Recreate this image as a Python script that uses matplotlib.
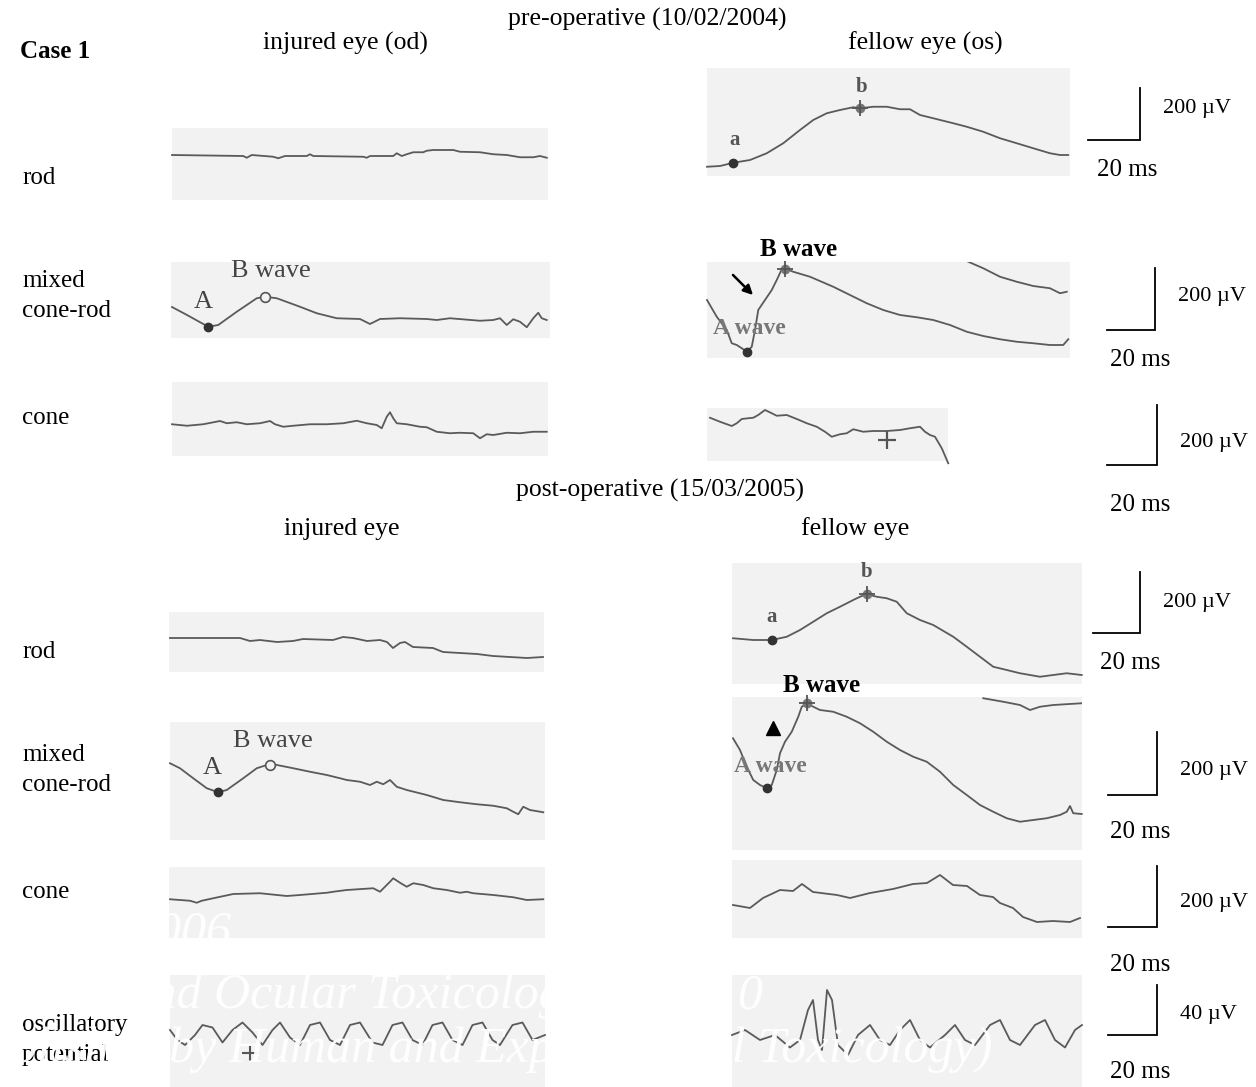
import matplotlib

matplotlib.use("Agg")

import matplotlib.pyplot as plt

W, H = 1256, 1087
BG = "#f2f2f2"
TRACE = "#5a5a5a"
SERIF = ["Liberation Serif", "DejaVu Serif"]

plt.rcParams.update({"font.family": SERIF, "font.size": 18})

# ---- traces: time (ms) and amplitude (uV) ----
# pre-operative, injured eye
pre_inj_rod_t = [0, 28.5, 29.9, 31.9, 40.5, 42.5, 45.2, 53.9, 55.2, 56.5, 76.5, 77.9, 79.2, 88.5, 89.9,
                 91.9, 93.9, 96.5, 100.5, 101.9, 104.5, 112.5, 115.2, 123.2, 128.5, 133.9, 139.2, 144.5, 147.2, 149.9]
pre_inj_rod_v = [0, -4, -11, 0, -7, -13, -4, -4, 3, -4, -7, -11, -4, -4, 7,
                 -4, 3, 11, 11, 17, 20, 20, 13, 11, 3, 0, -9, -9, -4, -11]

pre_inj_mix_t = [0, 6, 14.5, 18.5, 25.9, 33.9, 37.2, 41.9, 51.2, 57.9, 65.9, 75.2, 79.2, 83.2, 91.2, 101.9,
                 105.9, 111.2, 123.2, 128.5, 131.2, 133.9, 136.5, 139.2, 141.9, 144.5, 146.5, 147.9, 149.9]
pre_inj_mix_v = [0, -32, -79, -72, -19, 35, 41, 35, 1, -25, -45, -48, -68, -48, -45, -48,
                 -52, -45, -55, -52, -45, -72, -49, -59, -81, -45, -23, -45, -52]

pre_inj_cone_t = [0, 6, 12.5, 19.2, 21.9, 25.9, 29.9, 35.2, 39.2, 41.2, 44.5, 48.5, 55.2, 61.9, 68.5, 73.9,
                  77.9, 81.9, 83.9, 85.9, 87.2, 88.5, 89.9, 93.9, 99.2, 101.9, 105.9, 111.2, 115.2, 120.5,
                  123.2, 125.9, 128.5, 133.9, 139.2, 144.5, 149.9]
pre_inj_cone_v = [-1, -7, -1, 12, 3, 7, -1, 3, 12, -1, -11, -7, -1, -1, 3, 13,
                  3, -4, -17, 29, 47, 23, 3, -1, -11, -13, -31, -37, -35, -37,
                  -57, -41, -44, -35, -37, -31, -31]

# pre-operative, fellow eye
pre_fel_rod_t = [0, 5.2, 10.5, 17.2, 23.9, 30.5, 37.2, 42.5, 47.9, 53.2, 58.5, 61.2, 66.5, 71.9, 77.2,
                 81.2, 85.2, 90.5, 98.5, 103.9, 110.5, 117.2, 123.9, 130.5, 137.2, 141.2, 144.5]
pre_fel_rod_v = [1, 4, 17, 28, 55, 95, 148, 188, 215, 228, 239, 235, 241, 241, 231,
                 231, 208, 195, 175, 161, 141, 115, 95, 75, 55, 48, 48]

pre_fel_mix_t = [0, 3.9, 7.9, 9.9, 11.9, 13.9, 15.9, 17.9, 19.2, 20.5, 23.2, 25.9, 27.9, 29.9, 31.9, 34.5,
                 41.2, 50.5, 57.2, 63.9, 70.5, 77.2, 83.9, 90.5, 97.2, 103.9, 110.5, 117.2, 123.9, 130.5,
                 137.2, 142.5, 144.5]
pre_fel_mix_v = [0, -67, -120, -173, -180, -193, -207, -187, -120, -40, 0, 40, 80, 123, 123, 113,
                 93, 53, 20, -13, -40, -60, -69, -80, -100, -127, -144, -157, -167, -173,
                 -180, -180, -157]
pre_fel_mix2_t = [104.5, 110.5, 117.2, 123.9, 130.5, 137.2, 141.2, 143.9]
pre_fel_mix2_v = [153, 127, 93, 73, 56, 47, 27, 33]

pre_fel_cone_t = [0, 4, 8.7, 10.7, 12.7, 15.3, 17.3, 19.3, 22, 24.7, 26.7, 30.7, 34.7, 38.7, 42.7, 46,
                  48.7, 52, 54.7, 57.3, 61.3, 65.3, 70.7, 76, 80, 84, 86, 88, 90, 92.7, 95.3]
pre_fel_cone_v = [1, -15, -32, -21, -4, -1, 1, 12, 32, 19, 9, 12, -4, -21, -35, -55,
                  -75, -65, -61, -45, -55, -52, -52, -48, -41, -35, -55, -68, -75, -121, -181]

# post-operative, injured eye
post_inj_rod_t = [0, 28, 32, 36, 42.8, 49.2, 53.2, 65.2, 69.2, 73.2, 78.8, 84, 86.8, 89.2, 92, 94, 97.2,
                  105.2, 109.2, 116, 122.8, 129.2, 136, 142.8, 149.2]
post_inj_rod_v = [0, 0, -12, -8, -16, -12, -4, -8, 4, 0, -12, -8, -16, -40, -20, -16, -36,
                  -40, -56, -60, -64, -72, -76, -80, -76]

post_inj_mix_t = [0, 4, 9.3, 14.7, 19.3, 22.7, 29.3, 34.7, 38.7, 41.3, 49.3, 56, 62.7, 68, 70.7, 76, 80,
                  82.7, 85.3, 88, 90.7, 94.7, 102.7, 109.3, 116, 122.7, 129.3, 134.7, 137.3, 139.3,
                  141.3, 144, 149.3]
post_inj_mix_v = [-1, -21, -61, -101, -117, -108, -61, -21, -8, -5, -21, -35, -48, -61, -68, -75, -88,
                  -75, -85, -68, -95, -108, -128, -148, -157, -165, -171, -181, -195, -205,
                  -175, -188, -197]

post_inj_cone_t = [0, 8, 10.7, 12.7, 17.3, 25.3, 36, 46.7, 52, 62.7, 65.3, 70.7, 81.3, 84, 88, 89.3, 92,
                   94.7, 97.3, 101.3, 105.3, 110.7, 116, 118.7, 121.3, 129.3, 137.3, 142.7, 149.3]
post_inj_cone_v = [-1, -7, -15, -7, 3, 20, 23, 12, 16, 25, 29, 36, 43, 29, 69, 83, 65,
                   49, 63, 56, 43, 36, 25, 29, 23, 16, 7, -4, -1]

post_inj_op_t = [0, 3, 6, 10, 13, 17, 21, 25, 29, 33, 37, 41, 44, 48, 52, 56, 60, 64, 68, 72, 76, 81,
                 85, 89, 93, 97, 101, 105, 109, 113, 117, 121, 125, 129, 132, 137, 141, 145, 150]
post_inj_op_v = [0, -8, -12, -4, 4, 2, -10, 0, 6, -2, -12, 0, 6, -6, -12, 4, 6, -8, -12, 4, 6, -10,
                 -12, 4, 6, -8, -12, 4, 6, -8, -12, 4, 6, -8, -12, 4, 6, -8, -4]

# post-operative, fellow eye
post_fel_rod_t = [0, 8.1, 15.5, 21.5, 26.8, 32.1, 37.5, 42.8, 48.1, 50.8, 53.5, 57.5, 61.5, 65.5, 69.5,
                  74.8, 80.1, 88.1, 93.5, 98.8, 104.1, 109.5, 114.8, 122.8, 128.1, 133.5, 139.5]
post_fel_rod_v = [-1, -8, -8, 5, 32, 65, 99, 125, 152, 165, 175, 165, 159, 145, 99,
                  72, 52, 5, -35, -75, -115, -128, -141, -155, -148, -141, -148]

post_fel_mix_t = [0, 2.8, 5.5, 8.1, 10.8, 13.5, 15.5, 17.5, 18.8, 20.8, 23.5, 26.1, 27.5, 29.5, 32.1,
                  34.8, 40.1, 45.5, 50.8, 56.1, 61.5, 66.8, 72.1, 77.5, 82.8, 88.1, 93.5, 98.8, 104.1,
                  109.5, 114.8, 120.1, 125.5, 130.8, 133.5, 134.8, 136.1, 139.5]
post_fel_mix_v = [-1, -48, -115, -168, -188, -201, -188, -128, -61, -15, 25, 85, 125, 139, 125,
                  112, 105, 85, 59, 25, -15, -48, -75, -95, -135, -188, -228, -268, -295,
                  -321, -335, -328, -321, -308, -295, -272, -301, -304]
post_fel_mix2_t = [100.1, 108.1, 114.8, 118.8, 122.8, 128.1, 139.5]
post_fel_mix2_v = [159, 145, 132, 112, 125, 132, 139]

post_fel_cone_t = [0, 6.8, 12, 18.8, 24, 27.6, 32, 41.6, 46.8, 54.8, 64, 72, 77.6, 82.8, 88, 93.6, 98.8,
                   104, 106.8, 112, 116, 121.6, 128, 134.8, 138.8]
post_fel_cone_v = [0, -12, 28, 60, 56, 84, 52, 40, 28, 48, 64, 84, 88, 120, 80, 76, 40,
                   32, 8, -12, -48, -68, -64, -68, -52]

post_fel_op_t = [0, 5.2, 11.2, 17.2, 23.2, 27.2, 30.4, 32.4, 34.4, 36, 38, 40, 42.4, 46.4, 50.4, 55.2,
                 59.2, 63.2, 67.2, 71.2, 75.2, 79.2, 85.2, 89.2, 93.2, 97.2, 103.2, 107.2, 111.2, 115.2,
                 121.2, 125.2, 129.2, 133.2, 137.2, 140]
post_fel_op_v = [0, 4, -4, 0, -10, -4, 20, 28, -4, -12, 36, 28, -8, -16, 0, 8,
                 -4, -8, 4, 12, -4, -10, 0, 8, -4, -8, 8, 12, -4, -8, 8, 12, -4, -10, 4, 8]

fig = plt.figure(figsize=(W / 100, H / 100), dpi=100)
base = fig.add_axes([0, 0, 1, 1])
base.set_xlim(0, W)
base.set_ylim(H, 0)
base.axis("off")
base.set_zorder(5)  # labels sit on top of the grey panels


def panel(box, origin, t, v, uv_px=4.0, ms_px=0.4):
    """Grey trace panel; box/origin in pixels, data in ms / uV."""
    x0, y0, x1, y1 = box
    ox, oy = origin
    ax = fig.add_axes([x0 / W, 1 - y1 / H, (x1 - x0) / W, (y1 - y0) / H])
    ax.set_facecolor(BG)
    ax.set_xlim((x0 - ox) * ms_px, (x1 - ox) * ms_px)
    ax.set_ylim((oy - y1) * uv_px, (oy - y0) * uv_px)
    ax.set_xticks([])
    ax.set_yticks([])
    for s in ax.spines.values():
        s.set_visible(False)
    ax.plot(t, v, color=TRACE, lw=1.3, clip_on=False)
    return ax


def dot(ax, t, v, filled=True):
    if filled:
        ax.plot([t], [v], "o", ms=6, color="#333333", clip_on=False)
    else:
        ax.plot([t], [v], "o", ms=7, mfc="#f2f2f2", mec="#555555", mew=1.2, clip_on=False)


def cross(ax, t, v):
    ax.plot([t], [v], "o", ms=6, color="#777777", clip_on=False)
    ax.plot([t], [v], "+", ms=11, mew=1.3, color="#555555", clip_on=False)


def txt(x, y, s, **kw):
    kw.setdefault("ha", "left")
    kw.setdefault("va", "center")
    base.text(x, y, s, **kw)


# ---- pre-operative panels ----
a = panel((172, 128, 548, 200), (172, 155), pre_inj_rod_t, pre_inj_rod_v)

a = panel((171, 262, 550, 338), (172, 307), pre_inj_mix_t, pre_inj_mix_v)
dot(a, 14.5, -79)
dot(a, 37.2, 41, filled=False)

a = panel((172, 382, 548, 456), (172, 424), pre_inj_cone_t, pre_inj_cone_v)

a = panel((707, 68, 1070, 176), (707, 167), pre_fel_rod_t, pre_fel_rod_v)
dot(a, 10.5, 17)
cross(a, 61.2, 235)

a = panel((707, 262, 1070, 358), (707, 300), pre_fel_mix_t, pre_fel_mix_v)
a.plot(pre_fel_mix2_t, pre_fel_mix2_v, color=TRACE, lw=1.3)
dot(a, 15.9, -207)
cross(a, 31.2, 123)

a = panel((707, 408, 948, 461), (710, 418), pre_fel_cone_t, pre_fel_cone_v)
a.plot([71], [-88], "+", ms=13, mew=1.6, color="#555555", clip_on=False)

# ---- post-operative panels ----
a = panel((169, 612, 544, 672), (170, 638), post_inj_rod_t, post_inj_rod_v)

a = panel((170, 722, 545, 840), (170, 763), post_inj_mix_t, post_inj_mix_v)
dot(a, 19.3, -117)
dot(a, 40, -8, filled=False)

a = panel((169, 867, 545, 938), (170, 899), post_inj_cone_t, post_inj_cone_v)

a = panel((170, 975, 545, 1087), (170, 1030), post_inj_op_t, post_inj_op_v, uv_px=0.8)
a.plot([32], [-18], "+", ms=12, mew=1.5, color="#555555", clip_on=False)

a = panel((732, 563, 1082, 684), (733, 638), post_fel_rod_t, post_fel_rod_v)
dot(a, 15.6, -8)
cross(a, 53.6, 176)

a = panel((732, 697, 1082, 850), (733, 738), post_fel_mix_t, post_fel_mix_v)
a.plot(post_fel_mix2_t, post_fel_mix2_v, color=TRACE, lw=1.3)
dot(a, 13.5, -201)
cross(a, 29.5, 139)

a = panel((732, 860, 1082, 938), (733, 905), post_fel_cone_t, post_fel_cone_v)

a = panel((732, 975, 1082, 1087), (732, 1035), post_fel_op_t, post_fel_op_v, uv_px=0.8)

# ---- headings and row labels ----
txt(20, 51, "Case 1", fontweight="bold", fontsize=18)
txt(345, 43, "injured eye (od)", ha="center", fontsize=18.5)
txt(647, 19, "pre-operative (10/02/2004)", ha="center", fontsize=18.5)
txt(925, 43, "fellow eye (os)", ha="center", fontsize=18.5)
txt(660, 490, "post-operative (15/03/2005)", ha="center", fontsize=18.5)
txt(342, 529, "injured eye", ha="center", fontsize=18.5)
txt(855, 529, "fellow eye", ha="center", fontsize=18.5)

rows = [(178, "rod"), (296, "mixed\ncone-rod"), (418, "cone"), (652, "rod"),
        (770, "mixed\ncone-rod"), (892, "cone"), (1040, "oscillatory\npotential")]
for y, s in rows:
    txt(22, y, s, fontsize=18, linespacing=1.45)

# wave labels
txt(203, 302, "A", ha="center", color="#444444", fontsize=19)
txt(271, 271, "B wave", ha="center", color="#444444", fontsize=19)
txt(212, 768, "A", ha="center", color="#444444", fontsize=19)
txt(273, 741, "B wave", ha="center", color="#444444", fontsize=19)
txt(735, 140, "a", ha="center", color="#555555", fontsize=15, fontweight="bold")
txt(862, 87, "b", ha="center", color="#555555", fontsize=15, fontweight="bold")
txt(772, 617, "a", ha="center", color="#555555", fontsize=15, fontweight="bold")
txt(867, 572, "b", ha="center", color="#555555", fontsize=15, fontweight="bold")
txt(799, 250, "B wave", ha="center", fontweight="bold", fontsize=18)
txt(822, 685, "B wave", ha="center", fontweight="bold", fontsize=18)
txt(749, 328, "A wave", ha="center", color="#777777", fontweight="bold", fontsize=17)
txt(770, 766, "A wave", ha="center", color="#777777", fontweight="bold", fontsize=17)
base.annotate("", xy=(755, 297), xytext=(731, 273),
              arrowprops=dict(arrowstyle="-|>", color="black", lw=1.8, mutation_scale=14))
base.plot([773], [728], "^", ms=10, color="black")

# ---- scale bars: (x of vertical bar, top, bottom, left end, uV label y, uV text, ms label pos)
bars = [
    (1140, 88, 140, 1088, 108, "200 µV", (1097, 170)),
    (1155, 268, 330, 1107, 297, "200 µV", (1110, 360)),
    (1157, 405, 465, 1107, 442, "200 µV", (1110, 505)),
    (1140, 572, 633, 1093, 602, "200 µV", (1100, 663)),
    (1157, 732, 795, 1108, 770, "200 µV", (1110, 832)),
    (1157, 866, 927, 1108, 902, "200 µV", (1110, 965)),
    (1157, 985, 1035, 1108, 1015, "40 µV", (1110, 1072)),
]
for xv, top, bot, left, ly, lab, mpos in bars:
    base.plot([left, xv, xv], [bot, bot, top], color="black", lw=1.3, solid_joinstyle="miter")
    txt(xv + 23, ly, lab, fontsize=16)
    txt(mpos[0], mpos[1], "20 ms", fontsize=18)

# ---- faint publisher watermark over the lower panels ----
wm = dict(color="white", fontsize=36, style="italic", va="center", zorder=10, alpha=0.95)
fig.text(232 / W, 1 - 933 / H, "2006", ha="right", **wm)
fig.text(586 / W, 1 - 996 / H, "Cutaneous and Ocular Toxicology", ha="right", **wm)
fig.text(764 / W, 1 - 996 / H, "2010", ha="right", **wm)
fig.text(992 / W, 1 - 1050 / H, "(Published by Human and Experimental Toxicology)", ha="right", **wm)

fig.savefig("out.png", dpi=100)
